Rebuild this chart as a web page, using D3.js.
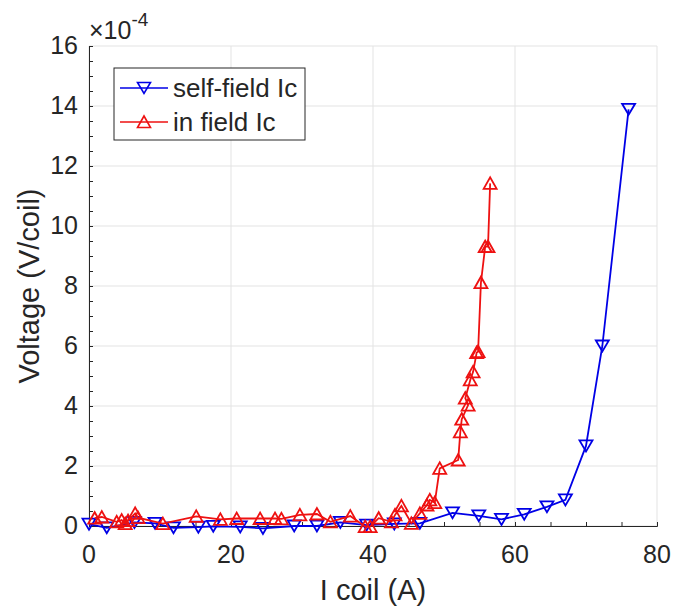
<!DOCTYPE html>
<html>
<head>
<meta charset="utf-8">
<script src="https://cdn.jsdelivr.net/npm/d3@7"></script>
<style>
  body { margin: 0; background: #fff; }
  svg text { font-family: "Liberation Sans", Arial, sans-serif; fill: #262626; }
</style>
</head>
<body>
<svg id="chart" width="688" height="609"></svg>
<script>
// voltage values are in units of 1e-4 V/coil
var self_field_current = [0, 2.5, 6.4, 9.3, 11.9, 15.4, 17.5, 21.3, 24.5, 28.9, 32.1, 35.4, 39.1,
  43.0, 46.6, 51.2, 54.9, 58.1, 61.3, 64.5, 67.1, 70.0, 72.3, 76.0];
var self_field_voltage = [0.06, -0.06, 0.12, 0.09, -0.06, -0.04, -0.01, -0.03, -0.08, 0.0, 0.0, 0.12, 0.03,
  0.07, 0.09, 0.44, 0.34, 0.22, 0.39, 0.64, 0.87, 2.67, 6.0, 13.89];

var in_field_current = [0.8, 1.8, 3.9, 4.6, 5.1, 5.5, 6.5, 6.9, 10.4, 15.1, 18.5, 20.8, 24.1, 26.2, 27.1,
  29.7, 32.1, 34.0, 36.8, 38.9, 39.6, 40.8, 42.6, 43.1, 44.0, 45.4, 46.6, 47.6, 48.0, 48.7, 49.4,
  52.0, 52.3, 52.5, 53.4, 53.0, 53.7, 54.1, 54.6, 54.8, 55.2, 55.8, 56.2, 56.5];
var in_field_voltage = [0.26, 0.3, 0.14, 0.2, 0.08, 0.18, 0.42, 0.28, 0.08, 0.32, 0.22, 0.25, 0.25, 0.25, 0.24,
  0.37, 0.4, 0.14, 0.33, -0.02, -0.02, 0.26, 0.14, 0.37, 0.67, 0.09, 0.42, 0.7, 0.87, 0.78, 1.92,
  2.2, 3.14, 3.56, 4.03, 4.26, 4.87, 5.14, 5.78, 5.81, 8.11, 9.31, 9.31, 11.42];

var x_ticks = [0, 20, 40, 60, 80];
var y_ticks = [0, 2, 4, 6, 8, 10, 12, 14, 16];
var series_names = ['self-field Ic', 'in field Ic'];

var svg = d3.select('#chart');
var margin = {left: 89, right: 31, top: 46, bottom: 83};
var width = 688 - margin.left - margin.right;
var height = 609 - margin.top - margin.bottom;

var x_scale = d3.scaleLinear().domain([0, 80]).range([0, width]);
var y_scale = d3.scaleLinear().domain([0, 16]).range([height, 0]);

var g = svg.append('g')
  .attr('transform', 'translate(' + margin.left + ',' + margin.top + ')');

// grid lines
g.append('g')
  .selectAll('.vert_lines')
  .data(x_ticks)
  .enter()
  .append('line')
  .attr('class', 'vert_lines')
  .attr('x1', function(d) { return x_scale(d); })
  .attr('x2', function(d) { return x_scale(d); })
  .attr('y1', 0)
  .attr('y2', height)
  .style('stroke', '#e3e3e3')
  .style('stroke-width', '1px');

g.append('g')
  .selectAll('.horz_lines')
  .data(y_ticks)
  .enter()
  .append('line')
  .attr('class', 'horz_lines')
  .attr('x1', 0)
  .attr('x2', width)
  .attr('y1', function(d) { return y_scale(d); })
  .attr('y2', function(d) { return y_scale(d); })
  .style('stroke', '#e3e3e3')
  .style('stroke-width', '1px');

// axes (ticks inward, minor ticks)
var x_axis = d3.axisBottom(x_scale).tickValues(d3.range(0, 81, 5)).tickSize(-4).tickFormat('');
var y_axis = d3.axisLeft(y_scale).tickValues(d3.range(0, 16.01, 0.5)).tickSize(-4).tickFormat('');

var gx = g.append('g').attr('transform', 'translate(0,' + height + ')').call(x_axis);
var gy = g.append('g').call(y_axis);
[gx, gy].forEach(function(a) {
  a.select('.domain').style('stroke', '#262626').style('stroke-width', '1px');
  a.selectAll('.tick line').style('stroke', '#262626').style('stroke-width', '1px');
});

g.selectAll('.x_lab')
  .data(x_ticks)
  .enter()
  .append('text')
  .attr('x', function(d) { return x_scale(d); })
  .attr('y', height + 37)
  .attr('text-anchor', 'middle')
  .style('font-size', '25px')
  .text(function(d) { return d; });

g.selectAll('.y_lab')
  .data(y_ticks)
  .enter()
  .append('text')
  .attr('x', -11)
  .attr('y', function(d) { return y_scale(d) + 8; })
  .attr('text-anchor', 'end')
  .style('font-size', '25px')
  .text(function(d) { return d; });

// exponent label
var expo = g.append('text').attr('x', 0).attr('y', -7).style('font-size', '25px');
expo.append('tspan').text('\u00d710');
expo.append('tspan').attr('dy', -13).style('font-size', '19px').text('-4');

// axis titles
svg.append('text')
  .attr('x', margin.left + width / 2)
  .attr('y', 600)
  .attr('text-anchor', 'middle')
  .style('font-size', '29px')
  .text('I coil (A)');

svg.append('text')
  .attr('transform', 'translate(39,' + (margin.top + height / 2) + ') rotate(-90)')
  .attr('text-anchor', 'middle')
  .style('font-size', '29px')
  .text('Voltage (V/coil)');

// markers
var tri_down = 'M-6.5,-5.5L6.5,-5.5L0,5.5Z';
var tri_up = 'M-6.5,5.5L6.5,5.5L0,-6Z';

function draw_series(xs, ys, color, shape) {
  var pts = xs.map(function(d, i) { return [d, ys[i]]; });
  var line = d3.line()
    .x(function(d) { return x_scale(d[0]); })
    .y(function(d) { return y_scale(d[1]); });
  g.append('path')
    .datum(pts)
    .attr('d', line)
    .style('fill', 'none')
    .style('stroke', color)
    .style('stroke-width', '1.8px');
  g.append('g')
    .selectAll('path')
    .data(pts)
    .enter()
    .append('path')
    .attr('transform', function(d) {
      return 'translate(' + x_scale(d[0]) + ',' + y_scale(d[1]) + ')';
    })
    .attr('d', shape)
    .style('fill', 'none')
    .style('stroke', color)
    .style('stroke-width', '1.8px');
}

var colors = ['#0000e6', '#ee1111'];
draw_series(self_field_current, self_field_voltage, colors[0], tri_down);
draw_series(in_field_current, in_field_voltage, colors[1], tri_up);

// legend
var legend = svg.append('g').attr('transform', 'translate(114,68)');
legend.append('rect')
  .attr('width', 191)
  .attr('height', 72)
  .style('fill', '#fff')
  .style('stroke', '#262626')
  .style('stroke-width', '1px');

var shapes = [tri_down, tri_up];
series_names.forEach(function(name, i) {
  var yy = 20 + i * 34;
  legend.append('line')
    .attr('x1', 6).attr('x2', 54)
    .attr('y1', yy).attr('y2', yy)
    .style('stroke', colors[i])
    .style('stroke-width', '1.6px');
  legend.append('path')
    .attr('transform', 'translate(30,' + yy + ')')
    .attr('d', shapes[i])
    .style('fill', 'none')
    .style('stroke', colors[i])
    .style('stroke-width', '1.6px');
  legend.append('text')
    .attr('x', 59)
    .attr('y', yy + 9)
    .style('font-size', '26px')
    .text(name);
});
</script>
</body>
</html>
